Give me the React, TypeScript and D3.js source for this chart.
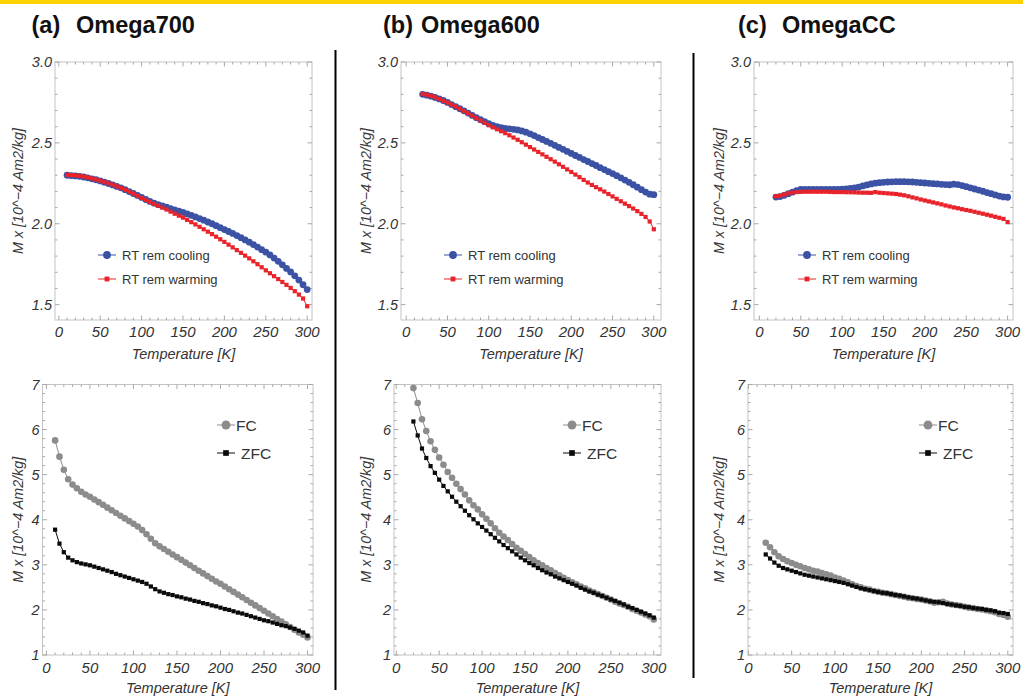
import React from "react";
import * as d3 from "d3";

// Temperature grids (K)
const TEMP_A = [10, 15, 20, 25, 30, 35, 40, 45, 50, 55, 60, 65, 70, 75, 80, 85, 90, 95, 100, 105, 110, 115, 120, 125, 130, 135, 140, 145, 150, 155, 160, 165, 170, 175, 180, 185, 190, 195, 200, 205, 210, 215, 220, 225, 230, 235, 240, 245, 250, 255, 260, 265, 270, 275, 280, 285, 290, 295, 300];
const TEMP_BC = [20, 25, 30, 35, 40, 45, 50, 55, 60, 65, 70, 75, 80, 85, 90, 95, 100, 105, 110, 115, 120, 125, 130, 135, 140, 145, 150, 155, 160, 165, 170, 175, 180, 185, 190, 195, 200, 205, 210, 215, 220, 225, 230, 235, 240, 245, 250, 255, 260, 265, 270, 275, 280, 285, 290, 295, 300];

// (a) Omega700 — room-temperature remanence
const A_COOLING = [2.300, 2.298, 2.296, 2.293, 2.289, 2.284, 2.278, 2.272, 2.265, 2.257, 2.249, 2.240, 2.231, 2.222, 2.211, 2.199, 2.187, 2.175, 2.163, 2.150, 2.138, 2.127, 2.118, 2.110, 2.102, 2.094, 2.086, 2.078, 2.070, 2.061, 2.052, 2.042, 2.032, 2.022, 2.011, 2.000, 1.988, 1.976, 1.964, 1.952, 1.940, 1.927, 1.914, 1.900, 1.886, 1.871, 1.856, 1.840, 1.824, 1.807, 1.788, 1.768, 1.746, 1.724, 1.702, 1.678, 1.652, 1.623, 1.593];
const A_WARMING = [2.302, 2.301, 2.299, 2.296, 2.292, 2.287, 2.281, 2.274, 2.267, 2.259, 2.250, 2.241, 2.231, 2.221, 2.210, 2.198, 2.186, 2.173, 2.160, 2.148, 2.136, 2.124, 2.112, 2.100, 2.088, 2.075, 2.062, 2.050, 2.038, 2.024, 2.010, 1.996, 1.981, 1.966, 1.951, 1.936, 1.920, 1.904, 1.888, 1.871, 1.854, 1.837, 1.820, 1.803, 1.786, 1.768, 1.750, 1.731, 1.712, 1.694, 1.676, 1.658, 1.640, 1.622, 1.603, 1.583, 1.562, 1.538, 1.490];
// (a) Omega700 — field-cooled / zero-field-cooled
const A_FC = [5.76, 5.40, 5.11, 4.90, 4.78, 4.70, 4.62, 4.56, 4.51, 4.45, 4.39, 4.33, 4.27, 4.21, 4.15, 4.09, 4.03, 3.97, 3.91, 3.85, 3.77, 3.68, 3.58, 3.48, 3.41, 3.35, 3.29, 3.23, 3.17, 3.11, 3.05, 2.99, 2.93, 2.87, 2.81, 2.75, 2.69, 2.63, 2.58, 2.52, 2.46, 2.40, 2.34, 2.28, 2.22, 2.16, 2.10, 2.04, 1.98, 1.92, 1.86, 1.80, 1.74, 1.68, 1.62, 1.56, 1.50, 1.45, 1.39];
const A_ZFC = [3.78, 3.47, 3.28, 3.16, 3.10, 3.06, 3.03, 3.01, 2.99, 2.96, 2.93, 2.90, 2.87, 2.84, 2.80, 2.77, 2.74, 2.71, 2.68, 2.65, 2.62, 2.58, 2.52, 2.46, 2.41, 2.38, 2.35, 2.33, 2.30, 2.28, 2.25, 2.23, 2.20, 2.18, 2.15, 2.13, 2.10, 2.08, 2.05, 2.02, 2.00, 1.97, 1.94, 1.92, 1.89, 1.86, 1.83, 1.80, 1.77, 1.75, 1.72, 1.69, 1.66, 1.64, 1.61, 1.58, 1.54, 1.50, 1.43];

// (b) Omega600
const B_COOLING = [2.800, 2.795, 2.789, 2.781, 2.772, 2.762, 2.750, 2.737, 2.724, 2.711, 2.698, 2.684, 2.670, 2.656, 2.643, 2.631, 2.619, 2.608, 2.600, 2.594, 2.590, 2.587, 2.584, 2.580, 2.574, 2.566, 2.556, 2.545, 2.533, 2.521, 2.509, 2.497, 2.485, 2.472, 2.460, 2.447, 2.435, 2.422, 2.410, 2.397, 2.385, 2.372, 2.360, 2.347, 2.335, 2.322, 2.310, 2.297, 2.284, 2.270, 2.256, 2.241, 2.226, 2.211, 2.196, 2.183, 2.180];
const B_WARMING = [2.802, 2.797, 2.790, 2.781, 2.771, 2.760, 2.749, 2.737, 2.725, 2.712, 2.698, 2.684, 2.669, 2.654, 2.639, 2.624, 2.609, 2.596, 2.584, 2.572, 2.560, 2.547, 2.533, 2.519, 2.504, 2.489, 2.474, 2.459, 2.444, 2.429, 2.414, 2.399, 2.384, 2.368, 2.352, 2.336, 2.320, 2.304, 2.288, 2.271, 2.255, 2.240, 2.226, 2.213, 2.199, 2.184, 2.169, 2.154, 2.139, 2.124, 2.109, 2.094, 2.078, 2.061, 2.042, 2.014, 1.966];
const B_FC = [6.92, 6.59, 6.23, 5.97, 5.74, 5.55, 5.38, 5.22, 5.06, 4.93, 4.80, 4.68, 4.56, 4.43, 4.32, 4.23, 4.12, 4.02, 3.92, 3.81, 3.71, 3.63, 3.55, 3.46, 3.38, 3.31, 3.24, 3.17, 3.10, 3.04, 2.99, 2.93, 2.88, 2.82, 2.77, 2.71, 2.66, 2.61, 2.57, 2.52, 2.48, 2.43, 2.39, 2.35, 2.31, 2.27, 2.23, 2.18, 2.14, 2.11, 2.07, 2.02, 1.98, 1.94, 1.90, 1.86, 1.79];
const B_ZFC = [6.18, 5.87, 5.58, 5.37, 5.19, 5.04, 4.89, 4.75, 4.63, 4.51, 4.40, 4.30, 4.20, 4.10, 4.01, 3.92, 3.84, 3.76, 3.68, 3.60, 3.52, 3.44, 3.37, 3.30, 3.23, 3.16, 3.10, 3.04, 2.99, 2.93, 2.88, 2.83, 2.79, 2.74, 2.70, 2.66, 2.62, 2.58, 2.54, 2.49, 2.45, 2.41, 2.38, 2.34, 2.31, 2.27, 2.23, 2.20, 2.16, 2.12, 2.07, 2.04, 2.00, 1.96, 1.92, 1.88, 1.83];

// (c) OmegaCC
const C_COOLING = [2.165, 2.168, 2.176, 2.186, 2.195, 2.205, 2.213, 2.212, 2.212, 2.212, 2.212, 2.212, 2.212, 2.212, 2.213, 2.213, 2.214, 2.215, 2.218, 2.222, 2.227, 2.234, 2.240, 2.246, 2.251, 2.254, 2.256, 2.258, 2.259, 2.260, 2.260, 2.260, 2.259, 2.258, 2.256, 2.254, 2.252, 2.250, 2.248, 2.246, 2.244, 2.242, 2.241, 2.245, 2.242, 2.236, 2.229, 2.222, 2.215, 2.208, 2.201, 2.193, 2.186, 2.178, 2.171, 2.166, 2.164];
const C_WARMING = [2.170, 2.173, 2.180, 2.188, 2.193, 2.196, 2.197, 2.198, 2.198, 2.198, 2.198, 2.198, 2.198, 2.197, 2.196, 2.196, 2.196, 2.195, 2.195, 2.194, 2.193, 2.192, 2.192, 2.191, 2.196, 2.192, 2.190, 2.188, 2.186, 2.184, 2.180, 2.176, 2.170, 2.163, 2.157, 2.150, 2.144, 2.138, 2.132, 2.126, 2.120, 2.113, 2.107, 2.101, 2.096, 2.090, 2.085, 2.080, 2.074, 2.068, 2.062, 2.056, 2.050, 2.043, 2.037, 2.030, 2.010];
const C_FC = [3.49, 3.39, 3.28, 3.19, 3.13, 3.08, 3.04, 3.00, 2.97, 2.93, 2.90, 2.87, 2.85, 2.82, 2.79, 2.76, 2.72, 2.69, 2.65, 2.61, 2.57, 2.53, 2.50, 2.47, 2.45, 2.42, 2.40, 2.38, 2.37, 2.35, 2.33, 2.31, 2.29, 2.27, 2.26, 2.24, 2.23, 2.21, 2.19, 2.16, 2.17, 2.18, 2.14, 2.12, 2.11, 2.09, 2.07, 2.05, 2.04, 2.02, 2.01, 1.99, 1.97, 1.95, 1.91, 1.89, 1.85];
const C_ZFC = [3.23, 3.14, 3.05, 2.98, 2.93, 2.90, 2.87, 2.84, 2.81, 2.78, 2.76, 2.74, 2.72, 2.70, 2.68, 2.66, 2.64, 2.62, 2.60, 2.57, 2.54, 2.51, 2.48, 2.46, 2.44, 2.42, 2.40, 2.38, 2.37, 2.35, 2.33, 2.32, 2.30, 2.28, 2.26, 2.25, 2.23, 2.21, 2.19, 2.18, 2.17, 2.15, 2.13, 2.12, 2.10, 2.09, 2.07, 2.06, 2.04, 2.03, 2.02, 2.00, 1.99, 1.97, 1.94, 1.93, 1.91];

// Axis ticks and labels
const X_TICKS = [0, 50, 100, 150, 200, 250, 300];
const REM_Y_TICKS = [1.5, 2.0, 2.5, 3.0];
const FC_Y_TICKS = [1, 2, 3, 4, 5, 6, 7];
const REM_LABELS = ["RT rem cooling", "RT rem warming"];
const FC_LABELS = ["FC", "ZFC"];
const TITLES = [["(a)", "Omega700"], ["(b)", "Omega600"], ["(c)", "OmegaCC"]];
const Y_LABEL = "M x [10^\u22124 Am2/kg]";
const X_LABEL = "Temperature [K]";

const FONT = "'Liberation Sans', Arial, Helvetica, sans-serif";
const BLUE = "#3b52a5";
const RED = "#e8232a";
const GREY = "#8c8c8c";
const BLACK = "#0a0a0a";

type Shape = "circle" | "square";
interface Series { t: number[]; v: number[]; color: string; shape: Shape; size: number; }
interface PanelSpec {
  x0: number; x1: number; y0: number; y1: number;
  xDom: [number, number]; yDom: [number, number];
  yTicks: number[]; yMinorStep: number; yFmt: (v: number) => string;
  series: Series[]; labels: string[];
  legX: number; legY: number[]; legTextDx: number[]; legFont: number; legMarkScale: number;
  yLabelX: number;
}

const remSeries = (t: number[], cool: number[], warm: number[]): Series[] => [
  { t, v: cool, color: BLUE, shape: "circle", size: 3.4 },
  { t, v: warm, color: RED, shape: "square", size: 2.1 },
];
const fcSeries = (t: number[], fc: number[], zfc: number[]): Series[] => [
  { t, v: fc, color: GREY, shape: "circle", size: 3.3 },
  { t, v: zfc, color: BLACK, shape: "square", size: 2.1 },
];

const fmt1 = (v: number) => v.toFixed(1);
const fmt0 = (v: number) => String(v);

const TOP = { y0: 62, y1: 320, yDom: [1.405, 3.0] as [number, number], yTicks: REM_Y_TICKS, yMinorStep: 0.1, yFmt: fmt1, labels: REM_LABELS, legY: [255, 279], legFont: 13, legMarkScale: 1.15 };
const BOT = { y0: 384.5, y1: 655, yDom: [1, 7] as [number, number], yTicks: FC_Y_TICKS, yMinorStep: 0.2, yFmt: fmt0, labels: FC_LABELS, legY: [425, 453], legFont: 15.5, legMarkScale: 1.35 };

const PANELS: PanelSpec[] = [
  { ...TOP, x0: 55, x1: 312, xDom: [-4.6, 305.8], series: remSeries(TEMP_A, A_COOLING, A_WARMING), legX: 107, legTextDx: [15, 15], yLabelX: 22.5 },
  { ...BOT, x0: 42.5, x1: 313, xDom: [-4.5, 306.3], series: fcSeries(TEMP_A, A_FC, A_ZFC), legX: 226, legTextDx: [10, 15], yLabelX: 22.5 },
  { ...TOP, x0: 401, x1: 661, xDom: [-6.3, 308.7], series: remSeries(TEMP_BC, B_COOLING, B_WARMING), legX: 453, legTextDx: [15, 15], yLabelX: 370.5 },
  { ...BOT, x0: 394, x1: 661, xDom: [-2.6, 308.4], series: fcSeries(TEMP_BC, B_FC, B_ZFC), legX: 572, legTextDx: [10, 15], yLabelX: 370.5 },
  { ...TOP, x0: 754, x1: 1013, xDom: [-6.5, 306.5], series: remSeries(TEMP_BC, C_COOLING, C_WARMING), legX: 807, legTextDx: [15, 15], yLabelX: 723.5 },
  { ...BOT, x0: 748, x1: 1013, xDom: [-0.5, 306], series: fcSeries(TEMP_BC, C_FC, C_ZFC), legX: 928, legTextDx: [10, 15], yLabelX: 723.5 },
];

function Marker({ x, y, s, k = 1 }: { x: number; y: number; s: Series; k?: number }) {
  const r = s.size * k;
  if (s.shape === "circle") return <circle cx={x} cy={y} r={r} fill={s.color} />;
  return <rect x={x - r} y={y - r} width={r * 2} height={r * 2} fill={s.color} />;
}

function Panel({ p }: { p: PanelSpec }) {
  const x = d3.scaleLinear().domain(p.xDom).range([p.x0, p.x1]);
  const y = d3.scaleLinear().domain(p.yDom).range([p.y1, p.y0]);
  const line = d3.line<[number, number]>();
  const xMinor = d3.range(0, 301, 10).filter((t) => t % 50 !== 0 && t >= p.xDom[0] && t <= p.xDom[1]);
  const yMinor = d3.range(Math.ceil(p.yDom[0] / p.yMinorStep) * p.yMinorStep, p.yDom[1] + 1e-9, p.yMinorStep)
    .filter((v) => !p.yTicks.some((m) => Math.abs(m - v) < 1e-6));
  const tickCol = "#a8a8a8";
  const MAJ = 4.5, MIN = 2.5;
  const cx = (p.x0 + p.x1) / 2;
  const cy = (p.y0 + p.y1) / 2;
  const isTop = p.labels === REM_LABELS;
  return (
    <g>
      {/* frame */}
      <rect x={p.x0} y={p.y0} width={p.x1 - p.x0} height={p.y1 - p.y0} fill="none" stroke="#c4c4c4" strokeWidth={1} />
      {/* x ticks, bottom and top */}
      {X_TICKS.map((t) => (
        <g key={"xm" + t}>
          <line x1={x(t)} x2={x(t)} y1={p.y1} y2={p.y1 - MAJ} stroke={tickCol} />
          <line x1={x(t)} x2={x(t)} y1={p.y0} y2={p.y0 + MAJ} stroke={tickCol} />
        </g>
      ))}
      {xMinor.map((t) => (
        <g key={"xn" + t}>
          <line x1={x(t)} x2={x(t)} y1={p.y1} y2={p.y1 - MIN} stroke={tickCol} />
          <line x1={x(t)} x2={x(t)} y1={p.y0} y2={p.y0 + MIN} stroke={tickCol} />
        </g>
      ))}
      {/* y ticks, left and right */}
      {p.yTicks.map((v) => (
        <g key={"ym" + v}>
          <line x1={p.x0} x2={p.x0 + MAJ} y1={y(v)} y2={y(v)} stroke={tickCol} />
          <line x1={p.x1} x2={p.x1 - MAJ} y1={y(v)} y2={y(v)} stroke={tickCol} />
        </g>
      ))}
      {yMinor.map((v) => (
        <g key={"yn" + v}>
          <line x1={p.x0} x2={p.x0 + MIN} y1={y(v)} y2={y(v)} stroke={tickCol} />
          <line x1={p.x1} x2={p.x1 - MIN} y1={y(v)} y2={y(v)} stroke={tickCol} />
        </g>
      ))}
      {/* tick labels and axis titles */}
      <g fontFamily={FONT} fontStyle="italic" fill="#333">
        {X_TICKS.map((t) => (
          <text key={"xl" + t} x={x(t)} y={p.y1 + (isTop ? 17 : 18)} fontSize={15} textAnchor="middle">{t}</text>
        ))}
        {p.yTicks.map((v) => (
          <text key={"yl" + v} x={p.x0 - 3} y={y(v) + 5} fontSize={14.5} textAnchor="end">{p.yFmt(v)}</text>
        ))}
        <text x={cx} y={p.y1 + (isTop ? 39 : 38)} fontSize={14.5} textAnchor="middle">{X_LABEL}</text>
        <text transform={`translate(${p.yLabelX},${cy}) rotate(-90)`} fontSize={14.3} fill="#3a3a3a" textAnchor="middle">{Y_LABEL}</text>
      </g>
      {/* data */}
      {p.series.map((s, i) => {
        const pts = s.t.map((t, k) => [x(t), y(s.v[k])] as [number, number]);
        return (
          <g key={"s" + i}>
            <path d={line(pts) || ""} fill="none" stroke={s.color} strokeWidth={1} />
            {pts.map((pt, k) => <Marker key={k} x={pt[0]} y={pt[1]} s={s} />)}
          </g>
        );
      })}
      {/* legend */}
      {p.series.map((s, i) => (
        <g key={"lg" + i}>
          <line x1={p.legX - 9} x2={p.legX + 9} y1={p.legY[i]} y2={p.legY[i]} stroke={s.color} strokeWidth={1} />
          <Marker x={p.legX} y={p.legY[i]} s={s} k={p.legMarkScale} />
          <text x={p.legX + p.legTextDx[i]} y={p.legY[i] + p.legFont * 0.36} fontFamily={FONT} fontSize={p.legFont} fill="#333">{p.labels[i]}</text>
        </g>
      ))}
    </g>
  );
}

export default function App() {
  const titleX = [[31.5, 76], [383, 421], [738, 782]];
  return (
    <svg width={1023} height={696} style={{ position: "absolute", left: 0, top: 0, background: "#fff" }}>
      <rect x={0} y={0} width={1023} height={696} fill="#fff" />
      <rect x={0} y={0} width={1023} height={4} fill="#ffd200" />
      {TITLES.map((tt, i) => (
        <g key={i} fontFamily={FONT} fontWeight="bold" fontSize={23.5} fill="#111">
          <text x={titleX[i][0]} y={33}>{tt[0]}</text>
          <text x={titleX[i][1]} y={33}>{tt[1]}</text>
        </g>
      ))}
      <line x1={335.5} x2={335.5} y1={50} y2={690} stroke="#000" strokeWidth={2} />
      <line x1={693.5} x2={693.5} y1={53} y2={678} stroke="#000" strokeWidth={2} />
      {PANELS.map((p, i) => <Panel key={i} p={p} />)}
    </svg>
  );
}
